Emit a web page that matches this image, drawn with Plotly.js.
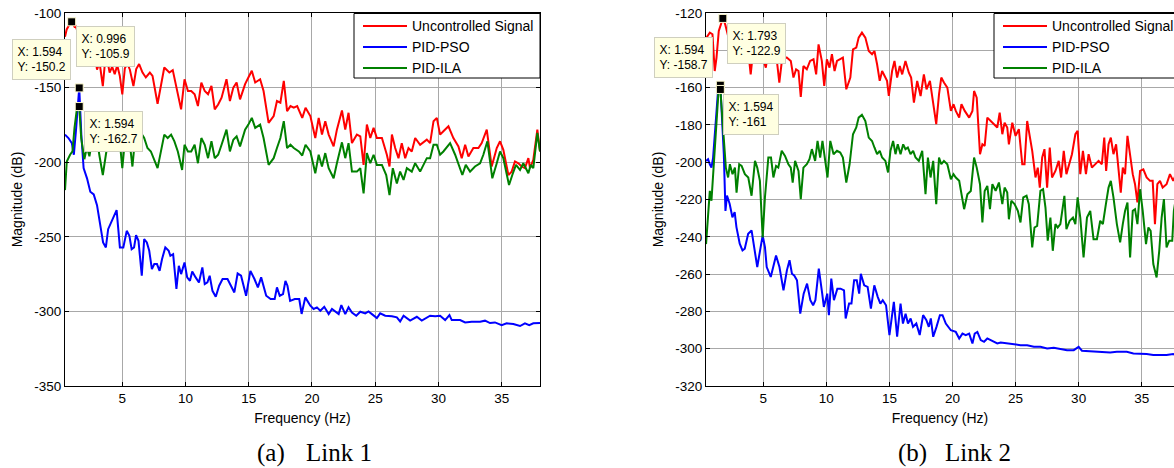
<!DOCTYPE html>
<html><head><meta charset="utf-8">
<script src="https://cdn.plot.ly/plotly-3.0.1.min.js"></script>
<style>html,body{margin:0;padding:0;background:#fff}#chart{width:1174px;height:468px}</style>
</head><body><div id="chart"></div>
<script>
// ---------- Link 1 ----------
const link1RedFreq = [0.47,0.6,0.8,0.996,1.2,1.28,1.45,1.6,1.8,2.0,2.2,2.4,2.6,2.8,3.0,3.2,3.46,3.6,3.8,4.0,4.2,4.4,4.6,4.8,5.0,5.2,5.4,5.6,5.88,6.1,6.33,6.6,6.86,7.18,7.39,7.79,8.32,8.72,8.99,9.26,9.65,9.92,10.19,10.45,10.72,10.98,11.25,11.52,11.78,12.05,12.31,12.58,12.85,13.24,13.51,13.78,14.04,14.31,14.71,14.97,15.24,15.51,15.9,16.17,16.57,16.97,17.23,17.5,17.77,18.03,18.3,18.56,18.83,19.23,19.49,19.87,20.26,20.53,20.79,21.05,21.32,21.71,21.97,22.37,22.63,22.89,23.16,23.55,23.82,24.08,24.34,24.61,24.87,25.13,25.53,25.92,26.13,26.32,26.58,26.84,27.1,27.37,27.63,27.89,28.16,28.55,29.08,29.34,29.61,29.87,30.13,30.39,30.79,31.18,31.58,31.84,32.11,32.37,32.76,33.16,33.42,33.82,34.08,34.21,34.61,34.87,35.13,35.53,35.79,36.05,36.32,36.58,36.84,37.11,37.24,37.5,37.82,38.03];
const link1Red = [-116,-111,-108,-105.9,-109,-108.3,-112,-116,-124,-119,-128,-121,-130,-125,-138,-133,-149,-136,-131,-140,-136,-141,-135,-142,-154.5,-137,-134,-138,-149,-137.6,-134.2,-139.9,-143.2,-139.9,-142.1,-160.8,-136.5,-139.9,-138.3,-148.9,-164.6,-144.4,-152.3,-152.3,-154.5,-162.4,-146.6,-152.3,-154.5,-148.9,-164.6,-161.3,-156.8,-144.4,-159,-150,-146.6,-157.9,-147.7,-143.2,-138.7,-146.6,-144.4,-152.3,-173.6,-169.1,-159,-160.1,-145.5,-165.8,-162.4,-163.5,-162.4,-170.3,-163.5,-169.1,-183.8,-170.3,-181.5,-172.5,-181.5,-189.4,-178.2,-165.3,-178.2,-166.9,-187.2,-181.5,-182.7,-201.8,-174.8,-183.8,-177,-183.8,-183.8,-195,-202.9,-181.5,-190.5,-197.3,-187.2,-197.3,-190.5,-192.8,-183.8,-188.3,-184.9,-187.2,-172.5,-170.3,-181.5,-179.3,-175.9,-183.8,-189.4,-197.3,-188.3,-196.2,-190.5,-190.5,-187.2,-178.2,-193.9,-202.9,-190.5,-186,-191.7,-208.6,-206.3,-199.5,-200.7,-202.9,-204,-197.3,-204,-198.4,-178.2,-192.8];

const link1GreenFreq = [0.47,0.61,0.87,1.06,1.22,1.4,1.594,1.75,2.0,2.2,2.4,2.6,2.8,3.0,3.2,3.46,3.7,4.0,4.2,4.4,4.6,4.8,5.0,5.2,5.4,5.6,5.8,6.0,6.3,6.73,6.99,7.26,7.79,8.06,8.32,8.59,8.86,9.12,9.39,9.73,9.92,10.19,10.45,10.72,10.98,11.25,11.52,11.78,12.05,12.31,12.58,12.85,13.24,13.51,13.78,14.04,14.31,14.71,14.97,15.24,15.51,15.9,16.17,16.57,16.97,17.23,17.5,17.77,18.03,18.3,18.56,18.96,19.23,19.49,19.87,20.26,20.53,20.79,21.05,21.32,21.71,21.97,22.37,22.63,22.89,23.16,23.55,23.82,24.08,24.34,24.61,24.87,25.13,25.53,25.87,26.13,26.39,26.71,26.97,27.24,27.5,27.89,28.16,28.55,29.08,29.34,29.61,29.87,30.13,30.39,30.92,31.32,31.58,31.89,32.16,32.5,32.89,33.29,33.55,33.87,34.08,34.26,34.61,34.87,35.13,35.58,35.84,36.13,36.45,36.71,37.11,37.29,37.5,37.82,38.03];
const link1Green = [-218.7,-199.5,-195,-192.8,-177,-165,-162.7,-183.8,-198,-190,-196,-186,-192,-185,-196,-208.6,-195,-180,-188,-183,-190,-186,-204,-186,-180,-188,-202.9,-185,-178,-183.8,-190.5,-192.8,-204,-192.8,-181.5,-183.8,-181.5,-186,-192.8,-205.2,-188.3,-192.8,-192.8,-188.3,-200.7,-183.8,-188.3,-197.3,-186,-197.3,-195,-188.3,-178.2,-192.8,-184.9,-182.7,-189.4,-178.2,-174.8,-170.3,-177,-174.8,-183.8,-201.8,-197.3,-190.5,-183.8,-172.5,-190.5,-188.3,-190.5,-192.8,-195.5,-188.3,-192.8,-207.4,-195,-202.9,-193.9,-204,-210.8,-200.7,-186.7,-197.3,-187.2,-206.3,-206.3,-204,-220.9,-193.9,-200.7,-195,-201.8,-201.8,-208.6,-222.1,-204,-214.2,-206.3,-211.9,-204,-206.3,-200.7,-206.3,-197.3,-197.3,-188.3,-188.3,-195,-192.8,-187.2,-195,-201.8,-208.6,-201.8,-206.3,-202.9,-200.7,-195,-186,-199.5,-210.8,-200.7,-192.8,-197.3,-215.3,-208.6,-201.8,-205.2,-200.7,-207.4,-201.8,-204,-180.4,-192.8];

const link1BlueFreq = [0.47,0.74,1.01,1.17,1.33,1.46,1.594,1.76,1.94,2.21,2.47,2.74,3.0,3.48,3.7,3.88,4.28,4.55,4.81,5.08,5.35,5.56,5.74,5.93,6.09,6.28,6.54,6.73,6.94,7.13,7.34,7.53,7.74,7.95,8.14,8.4,8.67,8.8,9.02,9.28,9.47,9.65,9.92,10.13,10.35,10.53,10.8,11.06,11.33,11.52,11.73,11.91,12.13,12.39,12.66,12.93,13.32,13.59,13.86,14.12,14.39,14.79,15.13,15.45,15.72,15.98,16.38,16.73,17.05,17.23,17.45,17.71,17.9,18.06,18.27,18.64,18.99,19.18,19.47,19.87,20.13,20.39,20.66,20.97,21.32,21.58,21.84,22.11,22.32,22.63,22.89,23.16,23.5,23.82,24.21,24.47,24.74,25.13,25.39,25.79,26.32,26.71,26.97,27.24,27.76,28.29,28.68,29.08,29.34,29.74,30.13,30.53,30.87,31.05,31.71,32.11,32.63,33.29,33.68,34.08,34.47,35.0,35.39,35.92,36.45,36.84,37.18,37.5,38.03];
const link1Blue = [-181.5,-183.8,-187.2,-195,-179.3,-163.5,-150.2,-181.5,-204,-210.8,-219.8,-221.6,-228.8,-253.8,-257.1,-244.9,-237.1,-232.1,-257.1,-257.1,-246,-249.3,-258.3,-257.1,-248.9,-252.7,-276.1,-251.6,-253.8,-259.4,-271.7,-268.3,-268.3,-272.8,-265,-257.1,-259.4,-262.7,-261.6,-285,-269.4,-275,-267.2,-277.2,-279.5,-273.2,-277.2,-280.6,-270.5,-281.7,-280.6,-276.1,-286.2,-290.2,-282.8,-278.3,-278.3,-282.8,-287.3,-274.6,-276.1,-289.5,-272.8,-278.3,-283.9,-277.2,-289.5,-291.7,-291.7,-283.9,-289.5,-288.4,-279.5,-282.8,-292.9,-291.7,-291.7,-301.7,-290.6,-296.2,-298.4,-297.3,-299.6,-296.9,-301.8,-298.4,-300.2,-301.8,-295.8,-301.8,-297.3,-300.7,-302.9,-300.2,-301.3,-300,-301.8,-304.5,-301.3,-302.9,-303.3,-304,-306.7,-302.9,-306.2,-303.6,-306.2,-304,-302.9,-303.3,-302.9,-305.8,-302.5,-305.8,-305.8,-307.4,-306.9,-306.9,-306.2,-307.8,-307.4,-309.2,-308,-308.5,-309.8,-308,-309.2,-308,-307.8];

const link1TipX = [0.996, 1.594, 1.594];
const link1TipY = [-105.9, -150.2, -162.7];

// ---------- Link 2 ----------
const link2RedFreq = [0.49,0.76,0.97,1.15,1.29,1.47,1.793,1.98,2.2,2.4,2.6,2.8,3.0,3.2,3.4,3.6,3.8,4.0,4.2,4.4,4.6,4.8,5.0,5.2,5.4,5.6,5.8,6.0,6.27,6.5,6.86,7.18,7.39,7.6,7.79,7.97,8.18,8.45,8.71,8.98,9.19,9.38,9.64,9.83,10.04,10.25,10.44,10.65,10.84,11.1,11.31,11.58,11.9,12.11,12.37,12.56,12.82,13.09,13.36,13.62,13.81,14.02,14.23,14.42,14.6,14.81,14.95,15.21,15.4,15.61,15.82,16.01,16.27,16.54,16.72,16.94,17.2,17.47,17.73,17.94,18.21,18.47,18.71,18.93,19.11,19.32,19.59,19.87,20.08,20.26,20.53,20.71,20.97,21.32,21.58,21.71,21.92,22.18,22.37,22.55,22.76,23.03,23.29,23.55,23.74,23.95,24.13,24.34,24.47,24.74,25.0,25.26,25.53,25.71,25.92,26.13,26.32,26.58,26.76,26.92,27.11,27.29,27.5,27.71,27.89,28.16,28.42,28.61,28.82,29.03,29.26,29.47,29.74,29.92,30.13,30.34,30.58,30.79,31.05,31.32,31.58,31.84,32.03,32.18,32.37,32.55,32.76,32.97,33.16,33.34,33.5,33.68,33.87,34.08,34.29,34.47,34.66,34.87,35.13,35.39,35.66,35.87,36.05,36.24,36.45,36.66,36.97,37.24,37.5,37.8,38.03];
const link2Red = [-133.2,-130.5,-131.4,-151.1,-143.9,-129.6,-122.9,-126.1,-132,-138,-134,-140,-136,-143,-138,-145,-140,-152.9,-140,-136,-142,-138,-145,-149.3,-140,-137,-146,-141,-157.3,-144,-143.9,-145.7,-154.6,-150.2,-151.1,-165,-148.4,-150.2,-145.7,-144.8,-152.9,-136.8,-145.7,-159.1,-144.8,-149.3,-142.1,-151.1,-145.7,-144.8,-143.9,-160.9,-154.6,-139.5,-138.6,-133.2,-130.5,-133.2,-140.4,-142.1,-140.4,-147.5,-156.4,-151.1,-153.8,-156.4,-164.5,-151.1,-145.7,-154.6,-148.4,-152.9,-145.7,-152,-154.6,-168,-156.4,-164.5,-152.9,-160.9,-156.4,-168.9,-179.6,-163.6,-154.6,-157.3,-160,-172.5,-168.9,-172.5,-176.1,-168.9,-172.5,-176.1,-172.5,-161.8,-165.4,-195.7,-190.4,-191.3,-176.1,-177.9,-179.6,-181.4,-173.4,-185,-178.8,-181.4,-190.4,-178.8,-185.9,-182.3,-201.1,-201.1,-177.9,-186.8,-193.9,-208.2,-202.9,-213.6,-197.5,-193,-213.6,-192.1,-208.2,-204.7,-199.3,-208.2,-193.9,-206.4,-201.1,-195.7,-185,-183.2,-206.4,-193.9,-206.4,-195.7,-202.9,-201.1,-199.3,-201.1,-186.8,-204.7,-190.4,-186.8,-195.7,-190.4,-202.9,-216.3,-202.9,-206.4,-185.9,-197.5,-206.4,-211.8,-221.6,-204.7,-203.8,-208.2,-210,-210,-233.2,-211.8,-210,-213.6,-211.8,-206.4,-210,-205,-208];

const link2GreenFreq = [0.46,0.62,0.76,0.89,1.07,1.29,1.45,1.594,1.71,1.87,2.03,2.21,2.35,2.56,2.75,2.88,3.09,3.28,3.54,3.81,4.07,4.34,4.52,4.73,4.95,5.13,5.4,5.61,5.8,6.01,6.19,6.46,6.72,6.99,7.18,7.33,7.52,7.79,7.97,8.18,8.45,8.66,8.85,9.11,9.3,9.51,9.69,9.91,10.09,10.31,10.57,10.84,11.1,11.31,11.58,11.84,12.11,12.37,12.56,12.82,13.09,13.36,13.62,13.81,14.02,14.23,14.42,14.68,14.89,15.08,15.29,15.48,15.66,15.88,16.09,16.27,16.46,16.67,16.88,17.07,17.33,17.6,17.86,18.05,18.26,18.47,18.71,18.93,19.11,19.32,19.59,19.87,20.08,20.26,20.53,20.92,21.18,21.45,21.71,21.92,22.18,22.37,22.55,22.76,22.97,23.16,23.42,23.68,23.95,24.13,24.34,24.47,24.66,24.92,25.18,25.39,25.61,25.87,26.05,26.32,26.5,26.71,26.97,27.18,27.37,27.55,27.76,27.95,28.16,28.34,28.55,28.87,29.03,29.29,29.55,29.74,29.92,30.13,30.39,30.66,30.92,31.18,31.45,31.71,31.92,32.16,32.37,32.55,32.76,33.03,33.29,33.5,33.68,33.87,34.08,34.29,34.47,34.66,34.87,35.08,35.34,35.53,35.71,35.92,36.18,36.39,36.58,36.76,36.97,37.18,37.42,37.55,37.8,38.03];
const link2Green = [-243.9,-226.1,-215.4,-220.7,-202.9,-176.1,-161.8,-161,-172.5,-190.4,-202.9,-208.2,-201.1,-206.4,-202.9,-216.3,-201.1,-202,-206.4,-208.2,-218,-199.3,-202.9,-210,-240.4,-218.9,-197.5,-197.5,-208.2,-202,-202.9,-193.9,-196.6,-201.1,-202.9,-210.9,-199.3,-204.7,-219.8,-202.9,-201.1,-198.4,-193,-199.3,-188.6,-197.5,-188.6,-199.3,-208.2,-188.6,-195.7,-193.9,-194.8,-197.5,-210.9,-201.1,-185,-181.4,-176.1,-174.6,-177.9,-186.8,-188.6,-192.1,-195.7,-193.9,-197.5,-199.3,-205.5,-193.9,-188.6,-195.7,-190.4,-195.7,-190.4,-193,-192.1,-195.7,-193.9,-197.5,-199.3,-193.9,-217.2,-197.5,-208.2,-199.3,-222.5,-197.5,-201.1,-199.3,-201.1,-209.1,-206.4,-208.2,-210,-225.2,-217.2,-215.4,-197.5,-202.9,-211.8,-232.3,-215.4,-212.7,-225.2,-211.8,-215.4,-210.9,-222.5,-213.6,-216.3,-230.6,-220.7,-222.5,-226.1,-232.3,-218.9,-218,-222.5,-245.7,-235,-234.1,-215.4,-214.5,-224.3,-242.1,-229.7,-247.5,-233.2,-235,-233.2,-218,-235.9,-231.4,-229.7,-233.2,-218.9,-229.7,-251.1,-229.7,-226.1,-241.3,-241.3,-231.4,-233.2,-222.5,-213.6,-210,-218.9,-233.2,-243,-233.2,-226.1,-221.6,-251.1,-226.1,-225.2,-233.2,-214.5,-226.1,-243.9,-235,-236.8,-254.6,-261.8,-247.5,-229.7,-219.8,-245.7,-242.1,-242.1,-226.1,-215,-220];

const link2BlueFreq = [0.46,0.62,0.76,0.89,1.02,1.23,1.42,1.594,1.74,1.87,2.0,2.12,2.33,2.55,2.73,2.87,3.13,3.35,3.53,3.8,4.07,4.33,4.52,4.79,4.95,5.13,5.27,5.59,5.8,6.01,6.28,6.6,6.87,7.08,7.27,7.45,7.67,7.93,8.2,8.47,8.73,8.95,9.13,9.4,9.67,9.8,10.07,10.2,10.39,10.6,10.87,11.13,11.4,11.53,11.8,11.99,12.2,12.41,12.6,12.73,13.0,13.27,13.53,13.8,14.07,14.28,14.47,14.73,15.0,15.19,15.35,15.61,15.88,16.07,16.28,16.47,16.68,16.87,17.13,17.4,17.67,17.93,18.12,18.28,18.47,18.73,19.0,19.21,19.47,19.87,20.26,20.53,20.79,21.05,21.32,21.58,21.76,21.97,22.24,22.5,22.76,23.03,23.29,23.55,23.82,24.34,24.87,25.39,25.92,26.45,26.97,27.5,28.03,28.55,29.08,29.61,30.0,30.26,30.92,31.45,31.97,32.5,33.03,33.82,34.34,34.87,35.39,35.92,36.45,36.97,37.5,37.8,38.03];
const link2Blue = [-199.3,-198.4,-201.1,-202.9,-197.5,-177.9,-160.9,-158.7,-181.4,-195.7,-226.1,-217.9,-222.3,-229.5,-226.8,-234.8,-243.7,-247.3,-246.4,-238.4,-236.6,-249.1,-256.2,-245.5,-239.3,-245.5,-256.2,-261.5,-256.2,-250,-256.2,-268.7,-258,-252.6,-259.8,-260.7,-263.3,-281.2,-270.5,-265.1,-274,-276.7,-274,-257.1,-270.5,-277.6,-270.5,-282,-262.4,-274,-267.8,-267.8,-268.7,-283.8,-275.8,-275.8,-263.3,-263.3,-270.5,-259.8,-266,-266.9,-278.5,-266,-272.2,-275.8,-274,-276.7,-292.7,-281.2,-274.9,-293.6,-275.8,-286.5,-281.2,-286.5,-283.8,-288.3,-286.5,-292.7,-282,-284.7,-288.3,-283.8,-293.6,-288.3,-282,-282,-286.5,-290.1,-291,-294.5,-291.9,-292.7,-291.9,-297.2,-291.9,-291,-295.4,-296.3,-294.5,-295.4,-296.3,-297.2,-296.7,-297.2,-297.6,-298.1,-298.1,-299,-299,-299.9,-299.5,-300.2,-300.8,-300.8,-299,-301.1,-301.3,-301.7,-301.7,-302,-301.7,-301.7,-302.6,-302.7,-302.9,-303.4,-303.4,-303.4,-302.9,-303.5,-304];

const link2TipX = [1.793, 1.594, 1.594];
const link2TipY = [-122.9, -158.7, -161];

const seriesNames = ['Uncontrolled Signal', 'PID-PSO', 'PID-ILA'];
const seriesColors = ['#ff0000', '#0000ff', '#008000'];
const xTicks = [5, 10, 15, 20, 25, 30, 35];
const link1YTicks = [-350, -300, -250, -200, -150, -100];
const link2YTicks = [-320, -300, -280, -260, -240, -220, -200, -180, -160, -140, -120];
const captions = [['(a)', 'Link 1'], ['(b)', 'Link 2']];

// ---------- styling ----------
const SANS = 'Liberation Sans, Arial, sans-serif';
const SERIF = 'Liberation Serif, Times New Roman, serif';
const W = 1174, H = 468, ML = 65, MT = 13, MB = 82;
const PW = W - ML, PH = H - MT - MB;
const px = v => (v - ML) / PW;          // pixel -> paper x
const py = v => (H - MB - v) / PH;      // pixel -> paper y

function line(x, y, k, xa, ya) {
  return {x: x, y: y, name: seriesNames[k], type: 'scatter', mode: 'lines',
    line: {color: seriesColors[k], width: 2}, xaxis: xa, yaxis: ya,
    showlegend: false, hoverinfo: 'skip'};
}
function tips(x, y, xa, ya) {
  return {x: x, y: y, type: 'scatter', mode: 'markers', showlegend: false,
    marker: {symbol: 'square', size: 8, color: '#000', line: {color: '#fffbd0', width: 1}},
    xaxis: xa, yaxis: ya, hoverinfo: 'skip'};
}

const data = [
  line(link1RedFreq, link1Red, 0, 'x', 'y'),
  line(link1BlueFreq, link1Blue, 1, 'x', 'y'),
  line(link1GreenFreq, link1Green, 2, 'x', 'y'),
  line(link2RedFreq, link2Red, 0, 'x2', 'y2'),
  line(link2BlueFreq, link2Blue, 1, 'x2', 'y2'),
  line(link2GreenFreq, link2Green, 2, 'x2', 'y2'),
  tips(link1TipX, link1TipY, 'x', 'y'),
  tips(link2TipX, link2TipY, 'x2', 'y2')
];

const tipOffsets1 = [[34, 25], [-38, -28], [34, 25]];
const tipOffsets2 = [[34, 25], [-37, -28], [31, 25]];
function tipNotes(xs, ys, offs, xa, ya) {
  return xs.map((x, i) => ({
    x: x, y: ys[i], xref: xa, yref: ya,
    text: 'X: ' + x + '<br>Y: ' + ys[i],
    showarrow: true, arrowcolor: 'rgba(0,0,0,0)', arrowwidth: 0.1,
    ax: offs[i][0], ay: offs[i][1], align: 'left',
    font: {family: SANS, size: 12, color: '#000'},
    bgcolor: '#ffffe1', bordercolor: '#cfcfbf', borderwidth: 1, borderpad: 4.5
  }));
}

// hand-drawn MATLAB-style legend boxes (left px of box)
const legendLefts = [354, 994];
const legendRowY = [26, 47, 68];
const shapes = [], legendNotes = [];
legendLefts.forEach(L => {
  shapes.push({type: 'rect', xref: 'paper', yref: 'paper', layer: 'above',
    x0: px(L), x1: px(L + 186), y0: py(78), y1: py(13.5),
    fillcolor: '#ffffff', line: {color: '#000', width: 1}});
  seriesNames.forEach((name, k) => {
    shapes.push({type: 'line', xref: 'paper', yref: 'paper', layer: 'above',
      x0: px(L + 9), x1: px(L + 53), y0: py(legendRowY[k]), y1: py(legendRowY[k]),
      line: {color: seriesColors[k], width: 2}});
    legendNotes.push({text: name, xref: 'paper', yref: 'paper', x: px(L + 56), y: py(legendRowY[k]),
      xanchor: 'left', yanchor: 'middle', showarrow: false,
      font: {family: SANS, size: 14, color: '#000'}});
  });
});

const captionNotes = [];
[[271, 339], [912, 978]].forEach((cx, i) => {
  captions[i].forEach((t, j) => captionNotes.push({text: t, xref: 'paper', yref: 'paper',
    x: px(cx[j]), y: py(453), showarrow: false, xanchor: 'center', yanchor: 'middle',
    font: {family: SERIF, size: 25, color: '#000'}}));
});

function xAxis(domain, range, anchor) {
  return {domain: domain, range: range, anchor: anchor,
    tickmode: 'array', tickvals: xTicks, ticktext: xTicks.map(String),
    ticks: 'inside', ticklen: 4, tickcolor: '#000', tickwidth: 1,
    showline: true, linecolor: '#000', linewidth: 1, mirror: 'ticks',
    showgrid: true, gridcolor: '#a8a8a8', gridwidth: 1, zeroline: false,
    tickfont: {family: SANS, size: 13.5, color: '#000'},
    title: {text: 'Frequency (Hz)', font: {family: SANS, size: 14, color: '#000'}, standoff: 7}};
}
function yAxis(range, ticks, anchor, mirror) {
  return {domain: [0, 1], range: range, anchor: anchor,
    tickmode: 'array', tickvals: ticks, ticktext: ticks.map(String),
    ticks: 'inside', ticklen: 4, tickcolor: '#000', tickwidth: 1,
    showline: true, linecolor: '#000', linewidth: 1, mirror: mirror,
    showgrid: true, gridcolor: '#a8a8a8', gridwidth: 1, zeroline: false,
    tickfont: {family: SANS, size: 13.5, color: '#000'},
    title: {text: 'Magnitude (dB)', font: {family: SANS, size: 14, color: '#000'}, standoff: 8}};
}

const layout = {
  width: W, height: H,
  margin: {l: ML, r: 0, t: MT, b: MB, autoexpand: false},
  paper_bgcolor: '#fff', plot_bgcolor: '#fff',
  showlegend: false,
  xaxis: xAxis([0, px(540)], [0.469, 38.03], 'y'),
  yaxis: yAxis([-350, -100], link1YTicks, 'x', 'ticks'),
  xaxis2: xAxis([px(706), 1], [0.457, 37.56], 'y2'),
  yaxis2: yAxis([-320, -120], link2YTicks, 'x2', false),
  shapes: shapes,
  annotations: [].concat(
    tipNotes(link1TipX, link1TipY, tipOffsets1, 'x', 'y'),
    tipNotes(link2TipX, link2TipY, tipOffsets2, 'x2', 'y2'),
    legendNotes, captionNotes)
};

Plotly.newPlot('chart', data, layout, {displayModeBar: false, staticPlot: true});
</script></body></html>
